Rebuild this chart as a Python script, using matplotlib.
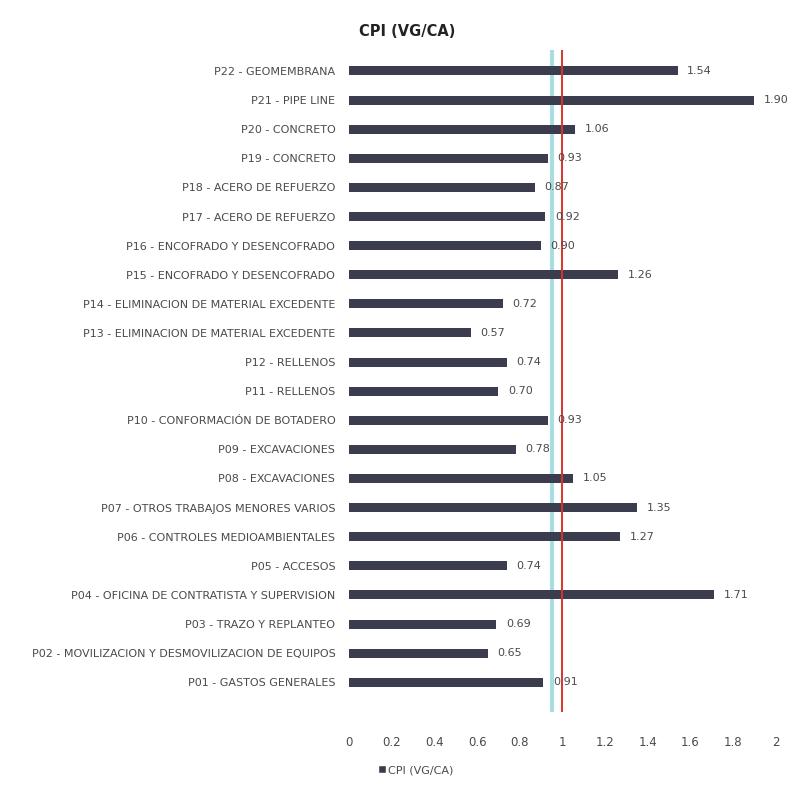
import matplotlib.pyplot as plt
from matplotlib.lines import Line2D

# Partidas del proyecto (de abajo hacia arriba)
partidas = [
    "P01 - GASTOS GENERALES",
    "P02 - MOVILIZACION Y DESMOVILIZACION DE EQUIPOS",
    "P03 - TRAZO Y REPLANTEO",
    "P04 - OFICINA DE CONTRATISTA Y SUPERVISION",
    "P05 - ACCESOS",
    "P06 - CONTROLES MEDIOAMBIENTALES",
    "P07 - OTROS TRABAJOS MENORES VARIOS",
    "P08 - EXCAVACIONES",
    "P09 - EXCAVACIONES",
    "P10 - CONFORMACIÓN DE BOTADERO",
    "P11 - RELLENOS",
    "P12 - RELLENOS",
    "P13 - ELIMINACION DE MATERIAL EXCEDENTE",
    "P14 - ELIMINACION DE MATERIAL EXCEDENTE",
    "P15 - ENCOFRADO Y DESENCOFRADO",
    "P16 - ENCOFRADO Y DESENCOFRADO",
    "P17 - ACERO DE REFUERZO",
    "P18 - ACERO DE REFUERZO",
    "P19 - CONCRETO",
    "P20 - CONCRETO",
    "P21 - PIPE LINE",
    "P22 - GEOMEMBRANA",
]
cpi = [0.91, 0.65, 0.69, 1.71, 0.74, 1.27, 1.35, 1.05, 0.78, 0.93, 0.70,
       0.74, 0.57, 0.72, 1.26, 0.90, 0.92, 0.87, 0.93, 1.06, 1.90, 1.54]
x_ticks = [0, 0.2, 0.4, 0.6, 0.8, 1, 1.2, 1.4, 1.6, 1.8, 2]
limite_cpi = 1.0
referencia = 0.95

COLOR_BARRA = '#3b3d4f'
COLOR_TEXTO = '#4a4a4a'
FUENTE = ['Liberation Sans Narrow', 'DejaVu Sans']

fig = plt.figure(figsize=(7.9, 7.94), dpi=100, facecolor='white')
ax = fig.add_axes([0.442, 0.103, 0.54, 0.834])

pos = list(range(len(partidas)))
ax.barh(pos, cpi, height=0.31, color=COLOR_BARRA, zorder=2)

# Lineas de referencia
ax.axvline(referencia, color='#a9dde2', lw=3, zorder=1)
ax.axvline(limite_cpi, color='#d9342b', lw=1.4, zorder=3)

for y, v in zip(pos, cpi):
    ax.text(v + 0.045, y, f"{v:.2f}", va='center', ha='left',
            fontsize=8, color=COLOR_TEXTO, family=FUENTE, zorder=4)

ax.set_xlim(0, 2)
ax.set_ylim(-1.03, 21.72)
ax.set_xticks(x_ticks)
ax.set_xticklabels([f"{t:g}" for t in x_ticks], family=FUENTE,
                   fontsize=8.5, color=COLOR_TEXTO)
ax.set_yticks(pos)
ax.set_yticklabels(partidas, family=FUENTE, fontsize=8, color=COLOR_TEXTO)
ax.tick_params(axis='y', length=0, pad=10)
ax.tick_params(axis='x', length=0, pad=17)
for s in ax.spines.values():
    s.set_visible(False)

fig.text(0.515, 0.96, "CPI (VG/CA)", ha='center', va='center',
         fontsize=10.5, fontweight='bold', color='#222222', family=FUENTE)

handles = [Line2D([0], [0], marker='s', color='w', markerfacecolor=COLOR_BARRA,
                  markersize=6, label='CPI (VG/CA)')]
leg = fig.legend(handles=handles, loc='center', bbox_to_anchor=(0.525, 0.03),
                 frameon=False, handletextpad=0.1, handlelength=1,
                 prop={'family': FUENTE, 'size': 8})
plt.setp(leg.get_texts(), color=COLOR_TEXTO)

fig.savefig('out.png', dpi=100, facecolor='white')
